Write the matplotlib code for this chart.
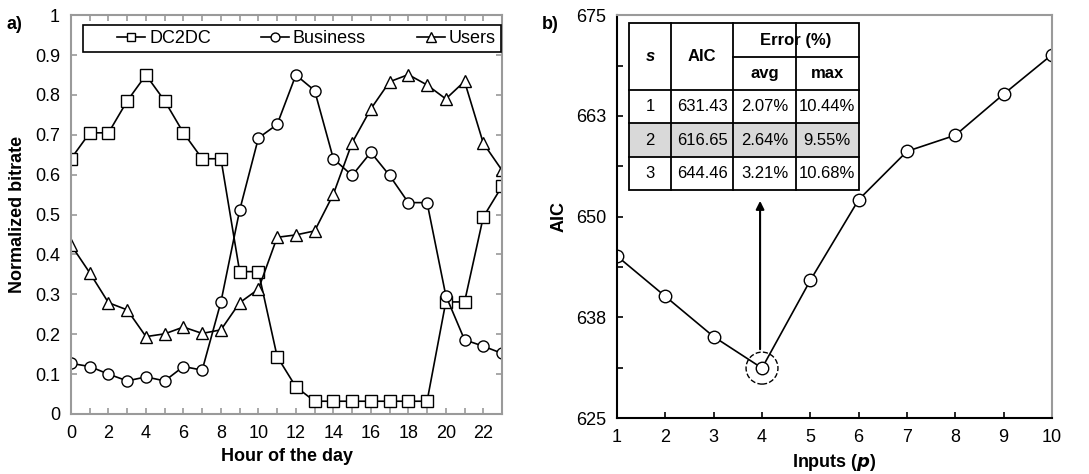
import numpy as np
import matplotlib.pyplot as plt
from matplotlib.patches import Rectangle, Ellipse

plt.rcParams['font.family'] = ['Liberation Sans', 'DejaVu Sans']

# panel a) normalized bitrate per hour
hours = list(range(24))
dc2dc = [0.640, 0.705, 0.705, 0.785, 0.850, 0.785, 0.705, 0.640, 0.640, 0.357,
         0.357, 0.144, 0.068, 0.032, 0.032, 0.032, 0.032, 0.032, 0.032, 0.032,
         0.281, 0.281, 0.494, 0.571]
business = [0.127, 0.119, 0.100, 0.083, 0.093, 0.083, 0.119, 0.110, 0.281, 0.511,
            0.692, 0.726, 0.850, 0.811, 0.640, 0.598, 0.656, 0.598, 0.530, 0.530,
            0.297, 0.186, 0.170, 0.152]
users = [0.424, 0.354, 0.279, 0.261, 0.194, 0.201, 0.218, 0.202, 0.211, 0.279,
         0.313, 0.443, 0.449, 0.459, 0.551, 0.680, 0.765, 0.833, 0.851, 0.825,
         0.790, 0.834, 0.679, 0.611]

# panel b) AIC vs inputs
inputs = list(range(1, 11))
aic = [645.1, 640.1, 635.1, 631.2, 642.1, 652.1, 658.1, 660.1, 665.2, 670.1]

# inset table
tab_header = ['s', 'AIC', 'Error (%)', 'avg', 'max']
tab_rows = [['1', '631.43', '2.07%', '10.44%'],
            ['2', '616.65', '2.64%', '9.55%'],
            ['3', '644.46', '3.21%', '10.68%']]

fig = plt.figure(figsize=(10.89, 4.74), dpi=100)
ax1 = fig.add_axes([0.0652, 0.1266, 0.3958, 0.8414])
ax2 = fig.add_axes([0.5666, 0.118, 0.3994, 0.850])

gray = '#9a9a9a'
mk = dict(color='black', lw=1.2, markerfacecolor='white', markeredgecolor='black',
          markeredgewidth=1.0)
ax1.plot(hours, dc2dc, marker='s', ms=8, label='DC2DC', **mk)
ax1.plot(hours, business, marker='o', ms=8, label='Business', **mk)
ax1.plot(hours, users, marker='^', ms=9, label='Users', **mk)
ax1.set_xlim(0, 23)
ax1.set_ylim(0, 1)
ax1.set_xticks(range(0, 23, 2))
ax1.set_xticks(range(0, 24), minor=True)
ax1.set_yticks(np.arange(0, 1.01, 0.1))
ax1.set_yticklabels(['0', '0.1', '0.2', '0.3', '0.4', '0.5', '0.6', '0.7', '0.8', '0.9', '1'])
for s in ax1.spines.values():
    s.set_color(gray)
    s.set_linewidth(1.5)
ax1.tick_params(which='both', direction='in', color=gray, top=True, right=True,
                labelsize=13, length=4, width=1.2, pad=8)
ax1.set_xlabel('Hour of the day', fontsize=13, fontweight='bold', labelpad=4)
ax1.set_ylabel('Normalized bitrate', fontsize=13, fontweight='bold', labelpad=6)
# legend entries without frame, frame box drawn separately
leg = ax1.legend(loc='center', bbox_to_anchor=(0.546, 0.941), ncol=3, frameon=False,
                 fontsize=13, handlelength=1.55, handletextpad=0.2, borderpad=0.2,
                 borderaxespad=0, markerscale=0.8, columnspacing=2.8)
ax1.add_patch(Rectangle((0.028, 0.907), 0.970, 0.068, transform=ax1.transAxes,
                        facecolor='white', edgecolor='black', lw=1.2, zorder=4))
leg.set_zorder(5)
fig.text(0.0064, 0.948, 'a)', fontsize=13, fontweight='bold', va='center')

ax2.plot(inputs, aic, marker='o', ms=9, **mk)
ax2.set_xlim(1, 10)
ax2.set_ylim(625, 675)
ax2.set_xticks(inputs)
ax2.set_yticks([625, 637.5, 650, 662.5, 675])
ax2.set_yticklabels(['625', '638', '650', '663', '675'])
ax2.set_yticks(np.arange(625, 675.1, 6.25), minor=True)
ax2.spines['left'].set_linewidth(1.5)
ax2.spines['bottom'].set_linewidth(1.5)
ax2.spines['top'].set_color(gray)
ax2.spines['right'].set_color(gray)
ax2.spines['top'].set_linewidth(1.5)
ax2.spines['right'].set_linewidth(1.5)
ax2.tick_params(which='both', direction='in', labelsize=13, length=4, width=1.2, pad=8)
ax2.set_xlabel('Inputs ($\\boldsymbol{p}$)', fontsize=13, fontweight='bold', labelpad=4)
ax2.set_ylabel('AIC', fontsize=13, fontweight='bold', labelpad=6)
fig.text(0.4977, 0.948, 'b)', fontsize=13, fontweight='bold', va='center')

# highlight of the minimum and arrow to the table
best = int(np.argmin(aic))
ax2.add_patch(Ellipse((inputs[best], aic[best]), 0.66, 3.97, transform=ax2.transData,
                      fill=False, ls='--', lw=1.0, color='black', zorder=3))
ax2.annotate('', xy=(inputs[best] - 0.04, 652.3), xytext=(inputs[best] - 0.04, 633.2),
             arrowprops=dict(arrowstyle='-|>', color='black', lw=1.5, mutation_scale=12))

# table drawn in axes fraction
xs = [0.0276, 0.124, 0.267, 0.411, 0.556]
ys = [0.980, 0.896, 0.814, 0.732, 0.648, 0.566]
T = ax2.transAxes
lw = 1.3
ax2.add_patch(Rectangle((xs[0], ys[5]), xs[4] - xs[0], ys[0] - ys[5], transform=T,
                        facecolor='white', edgecolor='none', zorder=2.4))
# highlighted row
ax2.add_patch(Rectangle((xs[0], ys[4]), xs[4] - xs[0], ys[3] - ys[4], transform=T,
                        facecolor='#d9d9d9', edgecolor='none', zorder=3))
ax2.add_patch(Rectangle((xs[0], ys[5]), xs[4] - xs[0], ys[0] - ys[5], transform=T,
                        facecolor='none', edgecolor='black', lw=lw, zorder=4))
for x in xs[1:4]:
    ax2.plot([x, x], [ys[5], ys[0]], transform=T, color='black', lw=lw, zorder=4)
for y in ys[2:5]:
    ax2.plot([xs[0], xs[4]], [y, y], transform=T, color='black', lw=lw, zorder=4)
ax2.plot([xs[2], xs[4]], [ys[1], ys[1]], transform=T, color='black', lw=lw, zorder=4)
ax2.text((xs[0] + xs[1]) / 2, (ys[0] + ys[2]) / 2, tab_header[0], transform=T,
         ha='center', va='center', fontsize=12, fontweight='bold', style='italic', zorder=5)
ax2.text((xs[1] + xs[2]) / 2, (ys[0] + ys[2]) / 2, tab_header[1], transform=T,
         ha='center', va='center', fontsize=12, fontweight='bold', zorder=5)
ax2.text((xs[2] + xs[4]) / 2, (ys[0] + ys[1]) / 2, tab_header[2], transform=T,
         ha='center', va='center', fontsize=12, fontweight='bold', zorder=5)
ax2.text((xs[2] + xs[3]) / 2, (ys[1] + ys[2]) / 2, tab_header[3], transform=T,
         ha='center', va='center', fontsize=12, fontweight='bold', zorder=5)
ax2.text((xs[3] + xs[4]) / 2, (ys[1] + ys[2]) / 2, tab_header[4], transform=T,
         ha='center', va='center', fontsize=12, fontweight='bold', zorder=5)
for r, row in enumerate(tab_rows):
    yc = (ys[r + 2] + ys[r + 3]) / 2
    for c, val in enumerate(row):
        ax2.text((xs[c] + xs[c + 1]) / 2, yc, val, transform=T, ha='center',
                 va='center', fontsize=12, zorder=5)

plt.savefig('out.png', dpi=100)
